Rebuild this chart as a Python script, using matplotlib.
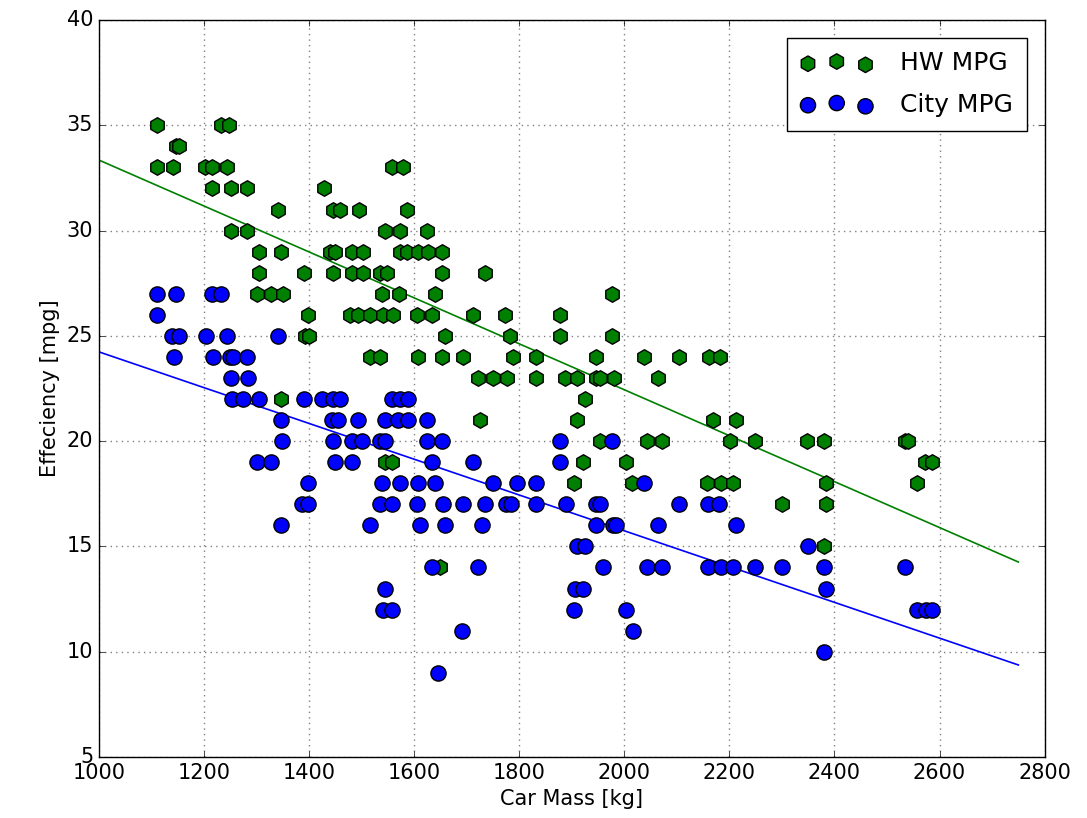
import numpy as np
import matplotlib
matplotlib.use('Agg')
import matplotlib.pyplot as plt

# highway mpg, grouped by value (mass in kg)
hw_groups = {
    35: [1110, 1232, 1247],
    34: [1147, 1152],
    33: [1110, 1141, 1202, 1215, 1244, 1557, 1578],
    32: [1215, 1251, 1282, 1428],
    31: [1341, 1445, 1459, 1495, 1586],
    30: [1251, 1282, 1544, 1574, 1624],
    29: [1304, 1346, 1440, 1449, 1481, 1502, 1573, 1586, 1607, 1626, 1653],
    28: [1304, 1390, 1445, 1481, 1502, 1535, 1548, 1653, 1735],
    27: [1300, 1327, 1350, 1538, 1571, 1639, 1976],
    26: [1398, 1478, 1493, 1516, 1541, 1560, 1605, 1634, 1712, 1773, 1877],
    25: [1392, 1400, 1658, 1782, 1877, 1976],
    24: [1516, 1535, 1607, 1653, 1693, 1788, 1832, 1946, 2037, 2104, 2162, 2182],
    23: [1721, 1750, 1776, 1832, 1887, 1910, 1947, 1953, 1981, 2064],
    22: [1346, 1925],
    21: [1725, 1910, 2168, 2212],
    20: [1953, 2043, 2071, 2202, 2248, 2347, 2380, 2534, 2540],
    19: [1544, 1557, 1921, 2003, 2572, 2585],
    18: [1904, 2014, 2157, 2184, 2207, 2383, 2558],
    17: [2301, 2383],
    15: [2380],
    14: [1649],
}

# city mpg, grouped by value (mass in kg)
city_groups = {
    27: [1110, 1147, 1215, 1232],
    26: [1110],
    25: [1139, 1152, 1204, 1244, 1341],
    24: [1143, 1217, 1250, 1255, 1282],
    23: [1251, 1284],
    22: [1253, 1274, 1304, 1390, 1424, 1445, 1459, 1557, 1573, 1588],
    21: [1346, 1443, 1455, 1493, 1544, 1569, 1588, 1624],
    20: [1348, 1445, 1481, 1500, 1535, 1544, 1624, 1653, 1877, 1976],
    19: [1300, 1327, 1449, 1481, 1634, 1712, 1877],
    18: [1398, 1538, 1573, 1607, 1639, 1750, 1795, 1832, 2037],
    17: [1386, 1398, 1535, 1557, 1605, 1655, 1693, 1735, 1775, 1785, 1832,
         1889, 1947, 1953, 2104, 2160, 2180],
    16: [1346, 1516, 1611, 1658, 1729, 1947, 1978, 1985, 2064, 2212],
    15: [1910, 1925, 2349],
    14: [1634, 1721, 1959, 2043, 2071, 2160, 2185, 2207, 2248, 2301, 2380, 2534],
    13: [1544, 1906, 1921, 2383],
    12: [1540, 1557, 1904, 2003, 2558, 2575, 2585],
    11: [1691, 2016],
    10: [2380],
    9: [1645],
}

# fitted lines
fit_x = [1000, 2750]
hw_fit_y = [33.35, 14.26]
city_fit_y = [24.24, 9.37]

hw_mass = [m for v in hw_groups for m in hw_groups[v]]
hw_mpg = [v for v in hw_groups for m in hw_groups[v]]
city_mass = [m for v in city_groups for m in city_groups[v]]
city_mpg = [v for v in city_groups for m in city_groups[v]]

plt.style.use('classic')
plt.rcParams['figure.facecolor'] = 'white'
plt.rcParams['savefig.facecolor'] = 'white'
plt.rcParams['font.family'] = ['DejaVu Sans']
plt.rcParams['font.size'] = 15

fig = plt.figure(figsize=(10.87, 8.18), dpi=100)
ax = fig.add_axes([0.091, 0.0746, 0.870, 0.9009])

ax.scatter(hw_mass, hw_mpg, s=125, c='g', marker='h', edgecolors='k',
           linewidths=1, label='HW MPG', zorder=3)
ax.scatter(city_mass, city_mpg, s=120, c='b', marker='o', edgecolors='k',
           linewidths=1, label='City MPG', zorder=3)
ax.plot(fit_x, hw_fit_y, color='g', lw=1.2)
ax.plot(fit_x, city_fit_y, color='b', lw=1.2)

ax.set_xlim(1000, 2800)
ax.set_ylim(5, 40)
ax.set_xticks(np.arange(1000, 2801, 200))
ax.set_yticks(np.arange(5, 41, 5))
ax.grid(True, color='0.5', linestyle=':', linewidth=1)
ax.set_axisbelow(True)
ax.set_xlabel('Car Mass [kg]', fontsize=15)
ax.set_ylabel('Effeciency [mpg]', fontsize=15)
ax.tick_params(labelsize=15)
ax.legend(loc='upper right', scatterpoints=3, fontsize=18, borderaxespad=0.7,
          handlelength=2.9, handletextpad=1.1, labelspacing=0.7, borderpad=0.55)

fig.savefig('out.png', dpi=100)
